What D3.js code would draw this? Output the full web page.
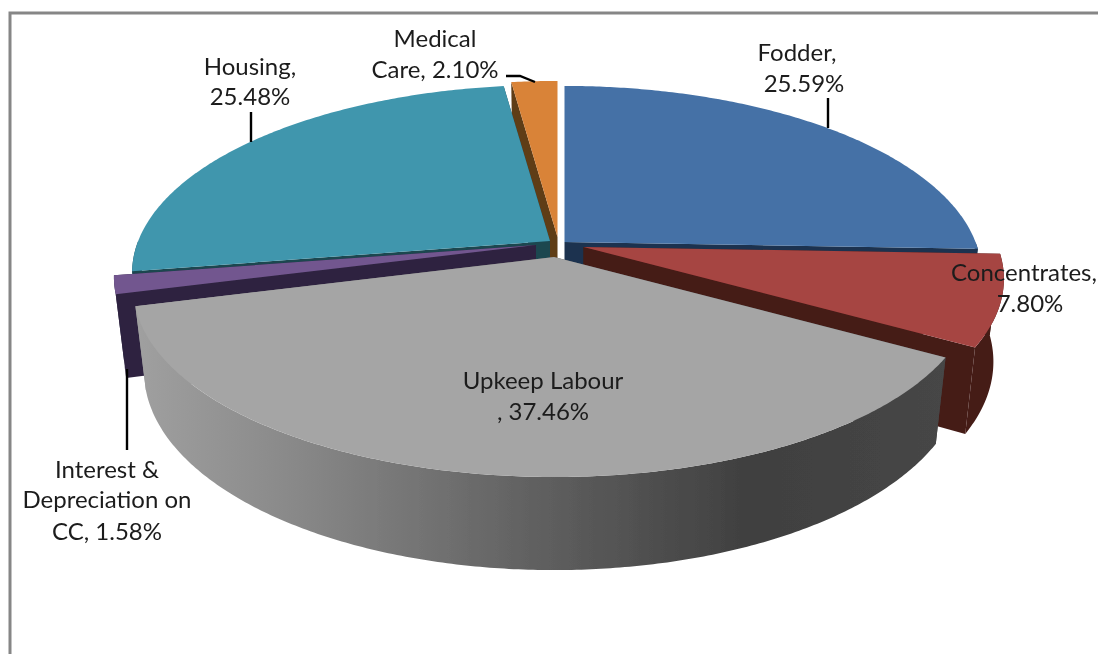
<!DOCTYPE html>
<html>
<head>
<meta charset="utf-8">
<script src="https://cdnjs.cloudflare.com/ajax/libs/d3/7.8.5/d3.min.js"></script>
<style>
html,body{margin:0;padding:0;background:#fff;overflow:hidden}
text{font-family:Lato,"Open Sans",sans-serif;font-size:24px;fill:#1c1c1c;text-anchor:middle}
</style>
</head>
<body>
<svg id="chart" width="1098" height="654"></svg>
<script>
// data
const categories = ["Fodder","Concentrates","Upkeep Labour","Interest & Depreciation on CC","Housing","Medical Care"];
const values = [25.59,7.80,37.46,1.58,25.48,2.10];
const labelLines = [
  ["Fodder,","25.59%"],
  ["Concentrates,","7.80%"],
  ["Upkeep Labour",", 37.46%"],
  ["Interest &","Depreciation on","CC, 1.58%"],
  ["Housing,","25.48%"],
  ["Medical","Care, 2.10%"]
];

// style + layout
const topColors  = ["#4471a6","#a64442","#a5a5a5","#72578f","#4096ad","#d98338"];
const wallColors = ["#1b3350","#451b17","url(#wallGrad)","#2e2340","#1b4650","#5f3c17"];
const apexes = [[564.5,242],[583.5,247],[554,257],[536,245],[550,241],[557.5,237]];
const widthFactor = [1,1.008,1.008,1.012,1.002,1];
const labelX = [[797,804],[1024,1030],[543,543],[107,107,107],[250,250],[435,435]];
const labelY = [[61,92],[281,312],[389,420],[478,508,540],[75,105],[47,78]];
const leaders = [
  [[828,98],[828,128]],
  [[251,112],[251,142]],
  [[127,369],[127,450]],
  [[506,76],[520,76],[535,82]]
];
const drawOrder = [5,4,0,1,3,2];
const k = 0.17, bottomDrop = 81, bottomXScale = 0.975, bottomYScale = 1.055;

const svg = d3.select("#chart");
const defs = svg.append("defs");
const grad = defs.append("linearGradient").attr("id","wallGrad")
  .attr("gradientUnits","userSpaceOnUse").attr("x1",135).attr("x2",950).attr("y1",0).attr("y2",0);
[[0,"#a0a0a0"],[0.2,"#888888"],[0.5,"#5f5f5f"],[0.75,"#404040"],[1,"#464646"]]
  .forEach(([o,c])=>grad.append("stop").attr("offset",o).attr("stop-color",c));
defs.append("filter").attr("id","soft").append("feGaussianBlur").attr("stdDeviation",0.45);

const root = svg.append("g").attr("filter","url(#soft)");

// frame
root.append("rect").attr("x",10).attr("y",13).attr("width",1300).attr("height",900)
  .attr("fill","#fff").attr("stroke","#868686").attr("stroke-width",3);

const xScale = d3.scaleLinear().domain([-1,1]).range([-411,411]);
const yScale = d3.scaleLinear().domain([-1,1]).range([-182.6,182.6]);
const pie = d3.pie().sort(null).value(d=>d).startAngle(0).endAngle(2*Math.PI);
const arcs = pie(values);

function project(angle, i, z, radius=1){
  const X = radius*Math.sin(angle), Y = -radius*Math.cos(angle);
  const s = 1/(1-k*Y);
  const dx = xScale(X)*s*widthFactor[i], dy = yScale(Y)*s;
  const [ax,ay] = apexes[i];
  return z ? [ax+dx*bottomXScale, ay+bottomDrop+dy*bottomYScale] : [ax+dx, ay+dy];
}
const line = d3.line();
const samples = (a0,a1)=>{
  const n = Math.max(2,Math.ceil((a1-a0)/0.01));
  return d3.range(n+1).map(j=>a0+(a1-a0)*j/n);
};

drawOrder.forEach(i=>{
  const a = arcs[i], g = root.append("g").attr("class","slice");
  const fillWall = wallColors[i];
  // radial walls
  [a.startAngle,a.endAngle].forEach(ang=>{
    g.append("path").attr("fill",fillWall).attr("d",
      line([project(ang,i,0,0),project(ang,i,0),project(ang,i,1),project(ang,i,1,0)])+"Z");
  });
  // outer wall for the part facing the viewer
  const a0 = Math.max(a.startAngle,Math.PI/2), a1 = Math.min(a.endAngle,Math.PI*1.5);
  if(a1>a0){
    const s = samples(a0,a1);
    g.append("path").attr("fill",fillWall).attr("d",
      line(s.map(t=>project(t,i,0)).concat(s.slice().reverse().map(t=>project(t,i,1))))+"Z");
  }
  // top face
  g.append("path").attr("fill",topColors[i]).attr("d",
    line([project(0,i,0,0)].concat(samples(a.startAngle,a.endAngle).map(t=>project(t,i,0))))+"Z");
});

// leaders
root.selectAll("path.leader").data(leaders).join("path").attr("class","leader")
  .attr("fill","none").attr("stroke","#000").attr("stroke-width",2.4).attr("d",d=>line(d));

// labels
labelLines.forEach((lines,i)=>{
  lines.forEach((t,j)=>{
    root.append("text").attr("x",labelX[i][j]).attr("y",labelY[i][j]).text(t);
  });
});
</script>
</body>
</html>
